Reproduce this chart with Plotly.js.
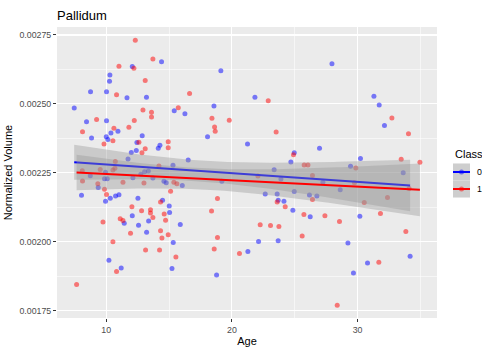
<!DOCTYPE html>
<html>
<head>
<meta charset="utf-8">
<script src="https://cdn.plot.ly/plotly-3.0.1.min.js"></script>
<style>
  html, body { margin: 0; padding: 0; background: #ffffff; }
  #chart { width: 482px; height: 347px; }
</style>
</head>
<body>
<div id="chart"></div>
<script>
// ---- Data ----
const classLabels = ["0", "1"];

const age0 = [12.07, 14.40, 10.29, 10.26, 8.75, 10.02, 11.65, 13.20, 7.45, 8.43,
  10.02, 15.41, 16.26, 8.83, 10.00, 10.13, 10.37, 10.93, 12.86, 12.44,
  12.39, 11.99, 14.14, 14.27, 11.73, 15.31, 19.12, 21.83, 18.57, 18.06,
  21.24, 24.96, 16.52, 24.69, 23.36, 27.96, 31.30, 31.72, 32.14, 26.97,
  30.23, 29.44, 33.63, 8.03, 9.36, 9.94, 10.32, 10.74, 11.01, 12.52,
  14.48, 15.01, 15.04, 12.07, 11.43, 12.57, 13.37, 13.21, 15.89, 15.33,
  10.21, 11.19, 15.23, 22.65, 23.60, 23.68, 24.14, 24.85, 24.96, 26.17,
  26.23, 22.12, 23.68, 21.27, 18.78, 26.76, 28.62, 30.18, 29.23, 34.18,
  30.79, 29.67, 19.20, 23.90, 16.05, 8.73, 9.86, 10.08, 12.12, 13.71,
  14.59, 14.77, 12.75, 13.05, 13.35, 9.94, 27.24];
const vol0 = [0.002636, 0.002653, 0.002605, 0.002582, 0.002544, 0.002544, 0.002522, 0.002524, 0.002485, 0.002435,
  0.002439, 0.002475, 0.002464, 0.002376, 0.002381, 0.002371, 0.002394, 0.002401, 0.002384, 0.002360,
  0.002331, 0.002324, 0.002339, 0.002350, 0.002300, 0.002277, 0.002620, 0.002524, 0.002492, 0.002381,
  0.002354, 0.002323, 0.002296, 0.002289, 0.002261, 0.002646, 0.002528, 0.002496, 0.002422, 0.002339,
  0.002302, 0.002274, 0.002250, 0.002168, 0.002197, 0.002147, 0.002158, 0.002166, 0.002170, 0.002158,
  0.002150, 0.002129, 0.002106, 0.002094, 0.002067, 0.002060, 0.002075, 0.002034, 0.002062, 0.001997,
  0.001933, 0.001904, 0.001903, 0.002173, 0.002173, 0.002150, 0.002147, 0.002114, 0.002182, 0.002169,
  0.002090, 0.002001, 0.002003, 0.001964, 0.001879, 0.002166, 0.002188, 0.002092, 0.001995, 0.001947,
  0.001923, 0.001886, 0.002219, 0.002227, 0.002204, 0.002239, 0.002228, 0.002228, 0.002232, 0.002231,
  0.002219, 0.002214, 0.002245, 0.002254, 0.002256, 0.002252, 0.002216];

const age1 = [12.31, 13.71, 11.01, 12.20, 13.10, 10.82, 12.92, 13.60, 13.60, 12.23,
  9.23, 8.11, 11.80, 10.61, 10.53, 9.82, 12.60, 15.73, 14.93, 14.93,
  12.84, 13.10, 10.72, 14.19, 16.63, 22.89, 18.41, 19.79, 18.62, 18.67,
  23.52, 24.90, 25.75, 26.05, 32.73, 34.05, 33.47, 34.96, 29.86, 9.86,
  10.02, 12.04, 12.81, 13.52, 13.52, 13.71, 14.32, 14.61, 14.72, 15.12,
  11.11, 11.33, 9.74, 11.93, 14.32, 14.43, 14.93, 10.53, 13.13, 14.24,
  15.54, 10.82, 7.64, 18.85, 18.38, 23.60, 24.24, 25.73, 22.25, 23.07,
  23.74, 25.59, 18.85, 18.59, 20.60, 26.41, 32.38, 30.53, 27.40, 28.56,
  31.82, 33.84, 31.69, 28.38, 34.10, 26.41, 22.07, 29.75, 9.52, 10.53,
  8.11, 9.33, 11.33, 13.00, 15.38, 15.62, 10.69, 8.09];
const vol1 = [0.002731, 0.002663, 0.002637, 0.002629, 0.002585, 0.002533, 0.002478, 0.002470, 0.002452, 0.002440,
  0.002443, 0.002399, 0.002415, 0.002412, 0.002366, 0.002354, 0.002361, 0.002486, 0.002363, 0.002341,
  0.002323, 0.002337, 0.002291, 0.002275, 0.002538, 0.002511, 0.002448, 0.002441, 0.002416, 0.002401,
  0.002398, 0.002315, 0.002278, 0.002278, 0.002449, 0.002392, 0.002299, 0.002288, 0.002267, 0.002190,
  0.002171, 0.002127, 0.002112, 0.002116, 0.002104, 0.002088, 0.002144, 0.002100, 0.002078, 0.002183,
  0.002083, 0.002077, 0.002071, 0.002031, 0.002040, 0.002013, 0.002025, 0.002000, 0.001970, 0.001970,
  0.001944, 0.001892, 0.001845, 0.002157, 0.002111, 0.002144, 0.002127, 0.002099, 0.002061, 0.002059,
  0.002055, 0.002021, 0.002015, 0.001973, 0.001957, 0.002153, 0.002160, 0.002142, 0.002094, 0.002073,
  0.002102, 0.002037, 0.001925, 0.001769, 0.002193, 0.002240, 0.002238, 0.002214, 0.002262, 0.002260,
  0.002220, 0.002210, 0.002216, 0.002213, 0.002216, 0.002210, 0.002266, 0.002257];

// Fitted (geom_smooth lm) line values at each class's first and last age
const fitVol0 = [0.002288, 0.002204];
const fitVol1 = [0.002251, 0.002188];

const xTickVals = [10, 20, 30];
const yTickVals = [0.00175, 0.00200, 0.00225, 0.00250, 0.00275];
const yTickText = ["0.00175", "0.00200", "0.00225", "0.00250", "0.00275"];

// ---- 95% confidence band of a linear fit (as geom_smooth(method = "lm")) ----
function tQuantile975(df) {
  const z = 1.959963985;
  const z3 = z * z * z, z5 = z3 * z * z, z7 = z5 * z * z;
  return z + (z3 + z) / (4 * df) + (5 * z5 + 16 * z3 + 3 * z) / (96 * df * df)
    + (3 * z7 + 19 * z5 + 17 * z3 - 15 * z) / (384 * df * df * df);
}
function smoothBand(x, y, fitEnds, nPts) {
  const n = x.length;
  const mx = x.reduce((a, b) => a + b, 0) / n;
  const my = y.reduce((a, b) => a + b, 0) / n;
  let sxx = 0, sxy = 0;
  for (let i = 0; i < n; i++) { sxx += (x[i] - mx) ** 2; sxy += (x[i] - mx) * (y[i] - my); }
  const b = sxy / sxx, a = my - b * mx;
  let sse = 0;
  for (let i = 0; i < n; i++) sse += (y[i] - a - b * x[i]) ** 2;
  const s = Math.sqrt(sse / (n - 2));
  const t = tQuantile975(n - 2);
  const xmin = Math.min(...x), xmax = Math.max(...x);
  const slope = (fitEnds[1] - fitEnds[0]) / (xmax - xmin);
  const xs = [], fit = [], lo = [], hi = [];
  for (let k = 0; k < nPts; k++) {
    const xv = xmin + (xmax - xmin) * k / (nPts - 1);
    const f = fitEnds[0] + slope * (xv - xmin);
    const se = s * Math.sqrt(1 / n + (xv - mx) ** 2 / sxx);
    xs.push(xv); fit.push(f); lo.push(f - t * se); hi.push(f + t * se);
  }
  return { xs, fit, lo, hi };
}

const band0 = smoothBand(age0, vol0, fitVol0, 80);
const band1 = smoothBand(age1, vol1, fitVol1, 80);

const ptBlue = "rgba(0,0,255,0.5)";
const ptRed = "rgba(255,0,0,0.5)";
const ribbon = "rgba(153,153,153,0.4)";
const FONT = "Liberation Sans, Arial, sans-serif";

function ribbonTraces(b) {
  return [
    { x: b.xs, y: b.lo, type: "scatter", mode: "lines", line: { width: 0, color: "rgba(0,0,0,0)" },
      hoverinfo: "skip", showlegend: false },
    { x: b.xs, y: b.hi, type: "scatter", mode: "lines", line: { width: 0, color: "rgba(0,0,0,0)" },
      fill: "tonexty", fillcolor: ribbon, hoverinfo: "skip", showlegend: false }
  ];
}

const traces = [
  { x: age0, y: vol0, type: "scatter", mode: "markers", name: classLabels[0],
    marker: { color: ptBlue, size: 5, line: { width: 0 } }, showlegend: false },
  { x: age1, y: vol1, type: "scatter", mode: "markers", name: classLabels[1],
    marker: { color: ptRed, size: 5, line: { width: 0 } }, showlegend: false },
  ...ribbonTraces(band0),
  { x: band0.xs, y: band0.fit, type: "scatter", mode: "lines", line: { color: "#0000FF", width: 2 },
    showlegend: false, hoverinfo: "skip" },
  ...ribbonTraces(band1),
  { x: band1.xs, y: band1.fit, type: "scatter", mode: "lines", line: { color: "#FF0000", width: 2 },
    showlegend: false, hoverinfo: "skip" }
];

// ---- ggplot-style legend in paper coordinates ----
const L = 57, T = 27, W = 380, H = 291;
const px2x = p => (p - L) / W;
const py2y = p => (T + H - p) / H;
const keyX0 = 453, keyX1 = 470;
const keyRows = [{ top: 163.5, color: "#0000FF", pt: ptBlue, label: classLabels[0] },
                 { top: 180.5, color: "#FF0000", pt: ptRed, label: classLabels[1] }];
const shapes = [];
const annotations = [];
keyRows.forEach(r => {
  const cy = r.top + 8.5;
  shapes.push({ type: "rect", xref: "paper", yref: "paper", x0: px2x(keyX0), x1: px2x(keyX1),
    y0: py2y(r.top + 17), y1: py2y(r.top), fillcolor: "#F2F2F2", line: { width: 0 }, layer: "above" });
  shapes.push({ type: "rect", xref: "paper", yref: "paper", x0: px2x(keyX0), x1: px2x(keyX1),
    y0: py2y(r.top + 17), y1: py2y(r.top), fillcolor: ribbon, line: { width: 0 }, layer: "above" });
  shapes.push({ type: "circle", xref: "paper", yref: "paper", x0: px2x(459), x1: px2x(464),
    y0: py2y(cy + 2.5), y1: py2y(cy - 2.5), fillcolor: r.pt, line: { width: 0 }, layer: "above" });
  shapes.push({ type: "line", xref: "paper", yref: "paper", x0: px2x(keyX0), x1: px2x(keyX1),
    y0: py2y(cy), y1: py2y(cy), line: { color: r.color, width: 2 }, layer: "above" });
  annotations.push({ text: r.label, xref: "paper", yref: "paper", x: px2x(475), y: py2y(cy),
    xanchor: "left", yanchor: "middle", showarrow: false,
    font: { family: FONT, size: 8.8, color: "#000000" } });
});
annotations.push({ text: "Class", xref: "paper", yref: "paper", x: px2x(452.5), y: py2y(154),
  xanchor: "left", yanchor: "middle", showarrow: false,
  font: { family: FONT, size: 11, color: "#000000" } });

const layout = {
  width: 482, height: 347,
  margin: { l: L, r: 482 - L - W, t: T, b: 347 - T - H, pad: 0 },
  paper_bgcolor: "#FFFFFF",
  plot_bgcolor: "#EBEBEB",
  showlegend: false,
  font: { family: FONT, color: "#000000" },
  title: { text: "Pallidum", x: L / 482, xref: "container", xanchor: "left",
    y: 1 - 15 / 347, yref: "container", yanchor: "middle",
    font: { family: FONT, size: 13, color: "#000000" } },
  xaxis: {
    range: [6.08, 36.32], tickvals: xTickVals, ticktext: xTickVals.map(String),
    showgrid: true, gridcolor: "#FFFFFF", gridwidth: 1.1, zeroline: false, showline: false,
    ticks: "outside", ticklen: 3, tickwidth: 1, tickcolor: "#333333",
    tickfont: { family: FONT, size: 8.8, color: "#4D4D4D" },
    minor: { tickvals: [15, 25, 35], showgrid: true, gridcolor: "#FFFFFF", gridwidth: 0.55, ticks: "" },
    title: { text: "Age", standoff: 4, font: { family: FONT, size: 11, color: "#000000" } }
  },
  yaxis: {
    range: [0.001723, 0.002779], tickvals: yTickVals, ticktext: yTickText,
    showgrid: true, gridcolor: "#FFFFFF", gridwidth: 1.1, zeroline: false, showline: false,
    ticks: "outside", ticklen: 3, tickwidth: 1, tickcolor: "#333333",
    tickfont: { family: FONT, size: 8.8, color: "#4D4D4D" },
    minor: { tickvals: [0.001875, 0.002125, 0.002375, 0.002625], showgrid: true, gridcolor: "#FFFFFF", gridwidth: 0.55, ticks: "" },
    title: { text: "Normalized Volume", standoff: 4, font: { family: FONT, size: 11, color: "#000000" } }
  },
  shapes: shapes,
  annotations: annotations
};

Plotly.newPlot("chart", traces, layout, { displayModeBar: false, staticPlot: true });
</script>
</body>
</html>
